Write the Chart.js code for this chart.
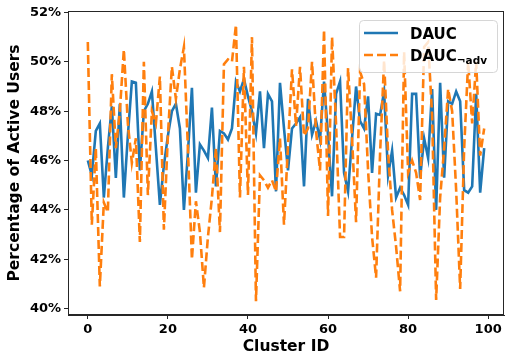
<!DOCTYPE html>
<html><head><meta charset="utf-8">
<script src="https://cdn.jsdelivr.net/npm/chart.js@4/dist/chart.umd.min.js"></script>
<style>html,body{margin:0;padding:0;background:#fff}#c{display:block}</style>
</head><body>
<canvas id="c" width="505" height="356"></canvas>
<script>
const clusterIds = Array.from({length: 100}, (_, i) => i);
const dauc = [46.0,45.4,47.2,47.5,44.5,46.5,48.2,45.3,48.3,44.5,
  47.0,49.2,49.15,45.6,48.0,48.3,48.8,46.5,44.2,45.8,
  47.0,48.0,48.3,47.3,44.0,46.3,48.95,44.7,46.65,46.4,
  46.1,48.15,44.95,47.2,47.1,46.85,47.3,49.2,48.8,49.3,
  48.6,48.0,47.1,48.8,46.5,48.7,48.4,44.75,49.15,47.3,
  45.6,47.3,47.5,47.75,44.95,48.5,47.05,47.6,46.85,49.2,
  47.0,44.55,48.7,49.2,45.5,44.75,46.9,49.0,47.6,47.3,
  48.6,45.5,47.9,47.85,48.8,45.4,46.4,44.5,44.9,44.6,
  44.2,48.7,48.7,45.3,46.9,46.1,48.9,44.0,49.15,45.3,
  48.4,48.3,48.8,48.4,44.8,44.7,44.95,48.7,44.7,46.5];
const daucNoAdv = [50.8,43.4,46.5,40.9,44.3,43.9,49.5,46.5,48.0,50.5,
  47.5,45.9,46.9,42.7,50.0,44.6,48.0,47.5,49.4,43.2,
  47.0,49.8,48.5,49.7,50.6,46.5,42.0,44.35,43.1,40.85,
  42.9,44.5,46.5,43.1,49.9,50.1,50.0,51.5,44.5,49.8,
  44.6,51.0,40.3,45.4,45.2,44.9,45.2,44.75,46.9,43.4,
  46.6,49.7,47.4,49.8,47.0,47.3,50.0,47.2,45.6,51.3,
  43.75,51.0,47.5,42.9,42.9,49.75,46.9,43.5,49.6,49.1,
  45.6,42.9,41.25,46.3,50.05,46.3,44.0,42.5,40.7,50.4,
  45.5,46.0,45.5,44.4,50.6,50.8,47.8,40.35,44.5,46.5,
  48.9,48.0,44.8,40.8,46.5,50.0,47.5,50.0,46.2,47.3];
const xTicks = [0, 20, 40, 60, 80, 100];
const yTicks = [40, 42, 44, 46, 48, 50, 52];
const seriesNames = ['DAUC', 'DAUC', '¬adv'];

const FONT = '"DejaVu Sans", sans-serif';
const toPts = arr => arr.map((v, i) => ({x: clusterIds[i], y: v}));

const framePlugin = {
  id: 'frame',
  afterDatasetsDraw(chart) {
    const {ctx, chartArea: a} = chart;
    ctx.save();
    ctx.strokeStyle = '#262626';
    ctx.lineWidth = 1;
    ctx.strokeRect(a.left + 0.5, a.top + 0.5, a.right - a.left - 1, a.bottom - a.top - 1);
    // legend
    const bx = 359, by = 20, bw = 138, bh = 52, r = 4;
    ctx.beginPath();
    ctx.roundRect(bx + 0.5, by + 0.5, bw, bh, r);
    ctx.fillStyle = 'rgba(255,255,255,0.8)';
    ctx.fill();
    ctx.strokeStyle = '#d6d6d6';
    ctx.lineWidth = 1;
    ctx.stroke();
    ctx.lineWidth = 2.6;
    ctx.strokeStyle = '#1f77b4';
    ctx.setLineDash([]);
    ctx.beginPath(); ctx.moveTo(364, 33); ctx.lineTo(398, 33); ctx.stroke();
    ctx.strokeStyle = '#ff7f0e';
    ctx.setLineDash([9, 4]);
    ctx.beginPath(); ctx.moveTo(364, 55); ctx.lineTo(398, 55); ctx.stroke();
    ctx.setLineDash([]);
    ctx.fillStyle = '#000';
    ctx.textBaseline = 'alphabetic';
    ctx.textAlign = 'left';
    ctx.font = 'bold 15px ' + FONT;
    ctx.fillText(seriesNames[0], 410, 38.5);
    ctx.fillText(seriesNames[1], 410, 60.5);
    const w = ctx.measureText(seriesNames[1]).width;
    ctx.font = 'bold 10.5px ' + FONT;
    ctx.fillText(seriesNames[2], 410 + w, 64);
    ctx.restore();
  }
};

new Chart(document.getElementById('c'), {
  type: 'line',
  data: {
    datasets: [
      {label: 'DAUC', data: toPts(dauc), borderColor: '#1f77b4', borderWidth: 2.6, pointRadius: 0, tension: 0, order: 1},
      {label: 'DAUC¬adv', data: toPts(daucNoAdv), borderColor: '#ff7f0e', borderWidth: 2.6, borderDash: [9, 4], pointRadius: 0, tension: 0, order: 0}
    ]
  },
  options: {
    responsive: false,
    animation: false,
    devicePixelRatio: 1,
    layout: {padding: {top: 11, right: 1, left: 0, bottom: 0}},
    plugins: {legend: {display: false}, tooltip: {enabled: false}},
    scales: {
      x: {
        type: 'linear', min: -4.95, max: 103.95,
        afterBuildTicks: s => { s.ticks = xTicks.map(v => ({value: v})); },
        afterFit: s => { s.height = 41; },
        grid: {drawOnChartArea: false, drawTicks: true, tickLength: 4, color: '#262626', tickWidth: 1},
        border: {display: true, color: '#262626', width: 1},
        ticks: {color: '#000', padding: 3, maxRotation: 0, font: {family: FONT, size: 13, weight: 'bold'}},
        title: {display: true, text: 'Cluster ID', color: '#000', padding: {top: 0, bottom: 0}, font: {family: FONT, size: 15.5, weight: 'bold', lineHeight: 1.2}}
      },
      y: {
        type: 'linear', min: 39.74, max: 52.06,
        afterBuildTicks: s => { s.ticks = yTicks.map(v => ({value: v})); },
        afterFit: s => { s.width = 68; },
        grid: {drawOnChartArea: false, drawTicks: true, tickLength: 4, color: '#262626', tickWidth: 1},
        border: {display: true, color: '#262626', width: 1},
        ticks: {color: '#000', padding: 3, callback: v => v + '%', font: {family: FONT, size: 13, weight: 'bold'}},
        title: {display: true, text: 'Percentage of Active Users', color: '#000', padding: {top: 6, bottom: 0}, font: {family: FONT, size: 15.5, weight: 'bold', lineHeight: 1.2}}
      }
    }
  },
  plugins: [framePlugin]
});
</script>
</body></html>
